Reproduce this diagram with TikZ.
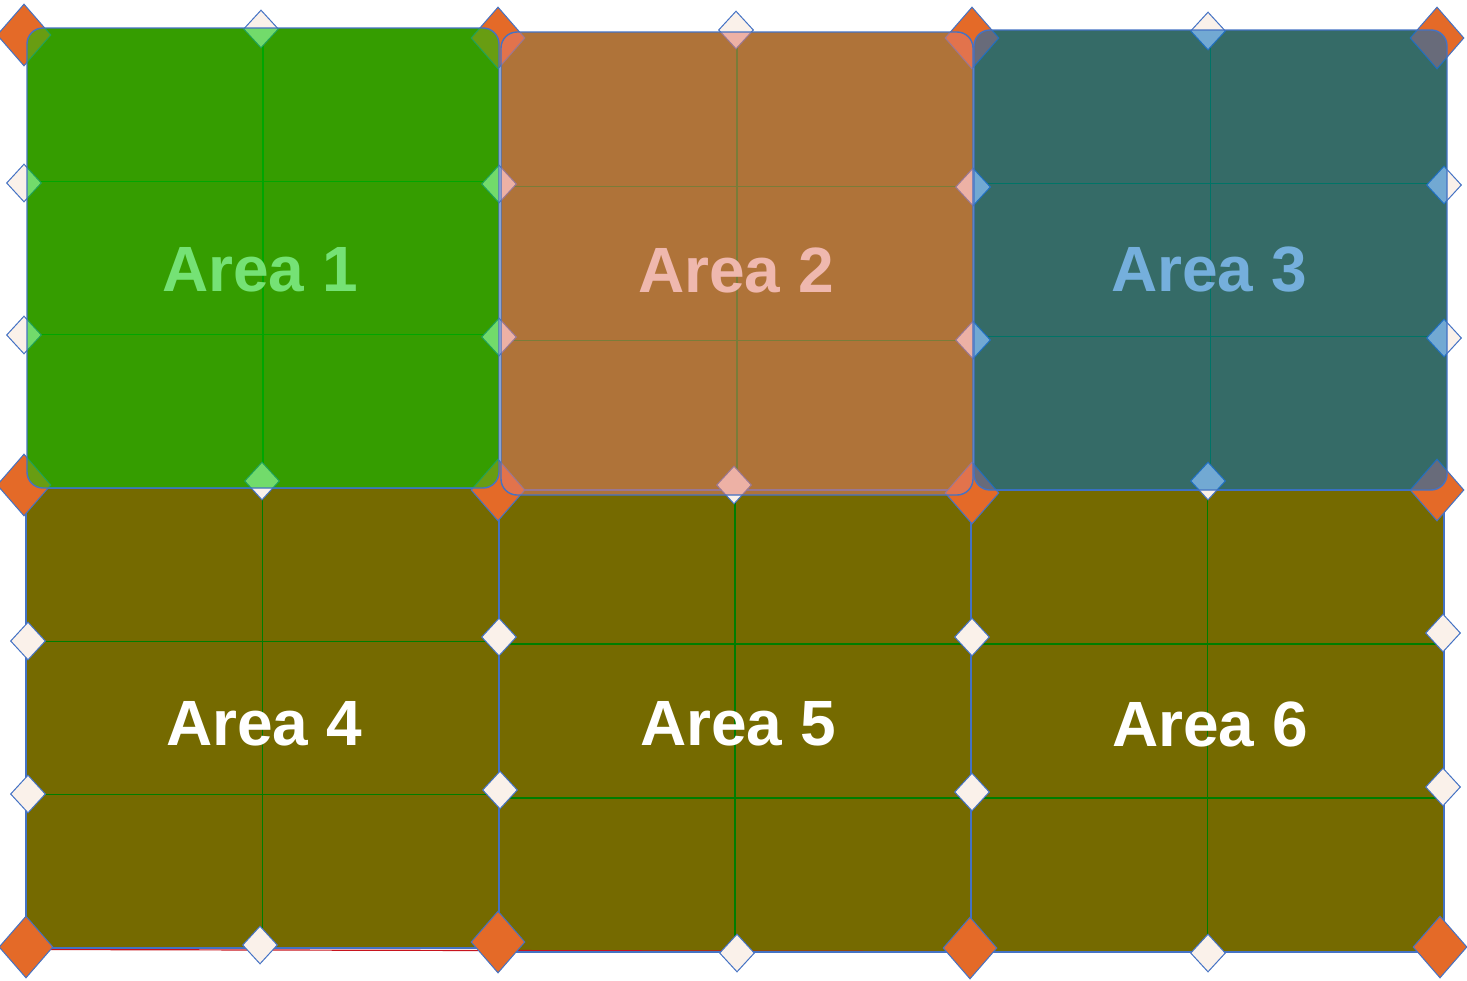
\documentclass[tikz,border=0pt]{standalone}
\usepackage{fontspec}
\setmainfont{Liberation Sans}
\usetikzlibrary{shapes.geometric}
\definecolor{areaOlive}{RGB}{117,106,0}
\definecolor{areaGrid}{RGB}{0,125,0}
\definecolor{areaEdge}{RGB}{68,114,196}
\definecolor{areaRed}{RGB}{200,20,30}
\definecolor{handleOrange}{RGB}{228,106,40}
\definecolor{handleWhite}{RGB}{250,241,234}
\definecolor{tintGreen}{RGB}{0,202,0}
\definecolor{tintPeach}{RGB}{226,124,107}
\definecolor{tintBlue}{RGB}{0,109,192}

\begin{document}
\begin{tikzpicture}[x=1pt,y=-1pt]
  \tikzset{
    cell/.style={fill=areaOlive},
    gridline/.style={draw=areaGrid,line width=1.5pt},
    celledge/.style={draw=areaEdge,line width=1.1pt},
    corner/.style={diamond,draw=areaEdge,line width=1pt,fill=handleOrange,inner sep=0pt,minimum width=54pt,minimum height=62pt},
    midpt/.style={diamond,draw=areaEdge,line width=1pt,fill=handleWhite,inner sep=0pt,minimum width=35pt,minimum height=38pt},
    areatext/.style={text=white,font=\fontsize{64}{70}\selectfont\bfseries},
    areacover/.style={draw=areaEdge,line width=1.4pt,rounded corners=16pt,fill opacity=0.54}
  }
  \fill[white] (0,0) rectangle (1467,980);
  \useasboundingbox (0,0) rectangle (1467,980);
  % cells with their grid
  \foreach \xa/\ya/\xb/\yb in {27/28/499/488,501/32/973/495,974/30/1447/490,26/488/499/948,499/490/971/952,971/490/1444/952}{
    \fill[cell] (\xa,\ya) rectangle (\xb,\yb);
    \draw[gridline] ({(\xa+\xb)/2},\ya) -- ({(\xa+\xb)/2},\yb);
    \draw[gridline] (\xa,{\ya+(\yb-\ya)/3}) -- (\xb,{\ya+(\yb-\ya)/3});
    \draw[gridline] (\xa,{\ya+2*(\yb-\ya)/3}) -- (\xb,{\ya+2*(\yb-\ya)/3});
  }
  \draw[areaRed,line width=1.2pt] (50,949.5) -- (935,951.5);
  \foreach \xa/\ya/\xb/\yb in {26/488/499/948,499/490/971/952,971/490/1444/952}
    \draw[celledge] (\xa,\ya) rectangle (\xb,\yb);
  % handles
  \foreach \x/\y [count=\i] in {261/29,736/30,1208/31,24/183,24/335,499/184,499/337,973/187,973/340,1444/185,1444/338,262/481,734/485,1208/481,28/641,28/794,499/637,500/790,972/637,972/792,1443/633,1443/787,260/945,737/953,1208/953}
    \node[midpt] (m\i) at (\x,\y) {};
  \foreach \x/\y [count=\i] in {24/35,498/38,972/38,1437/38,24/485,498/490,972/493,1437/490,26/947,498/942,970/948,1440/947}
    \node[corner] (k\i) at (\x,\y) {};
  % names
  \node[areatext] (a1) at (260,270) {Area 1};
  \node[areatext] (a2) at (736,270) {Area 2};
  \node[areatext] (a3) at (1209,270) {Area 3};
  \node[areatext] (a4) at (264,724) {Area 4};
  \node[areatext] (a5) at (738,724) {Area 5};
  \node[areatext] (a6) at (1210,724) {Area 6};
  % tinted top row
  \path[areacover,fill=tintGreen] (27,28) rectangle (499,488);
  \path[areacover,fill=tintPeach] (501,32) rectangle (973,495);
  \path[areacover,fill=tintBlue] (974,30) rectangle (1447,490);
\end{tikzpicture}
\end{document}
